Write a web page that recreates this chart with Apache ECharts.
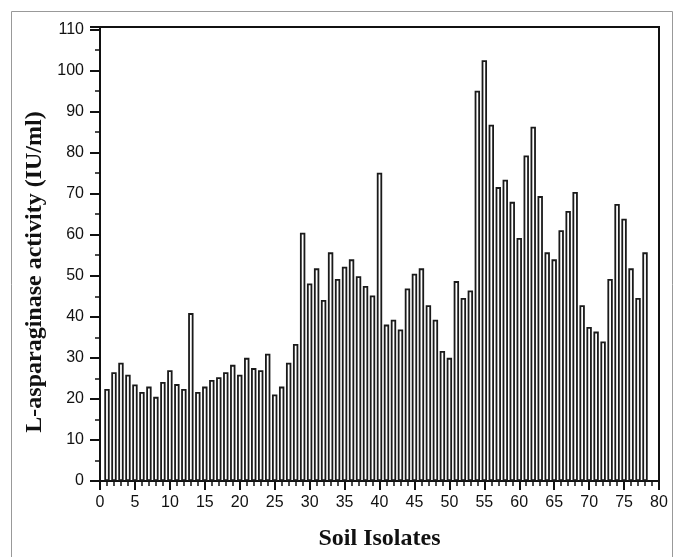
<!DOCTYPE html>
<html>
<head>
<meta charset="utf-8">
<script src="https://cdn.jsdelivr.net/npm/echarts@6/dist/echarts.min.js"></script>
<style>
  html, body { margin: 0; padding: 0; background: #fff; }
  #main { width: 676px; height: 557px; }
</style>
</head>
<body>
<div id="main"></div>
<script>
// soil isolate numbers (x positions)
const isolates = [
  1, 2, 3, 4, 5, 6, 7, 8, 9, 10, 11, 12, 13, 14, 15, 16, 17, 18, 19, 20,
  21, 22, 23, 24, 25, 26, 27, 28, 29, 30, 31, 32, 33, 34, 35, 36, 37, 38, 39, 40,
  41, 42, 43, 44, 45, 46, 47, 48, 49, 50, 51, 52, 53, 54, 55, 56, 57, 58, 59, 60,
  61, 62, 63, 64, 65, 66, 67, 68, 69, 70, 71, 72, 73, 74, 75, 76, 77, 78
];

// L-asparaginase activity (IU/ml)
const activity = [
  22.4, 26.5, 28.8, 25.9, 23.5, 21.7, 23.0, 20.5, 24.1, 27.0,
  23.6, 22.4, 40.9, 21.7, 23.0, 24.6, 25.3, 26.5, 28.3, 25.9,
  30.0, 27.5, 27.0, 31.0, 21.1, 23.0, 28.8, 33.4, 60.5, 48.1,
  51.8, 44.1, 55.7, 49.2, 52.2, 54.0, 49.9, 47.5, 45.2, 75.1,
  38.1, 39.3, 36.9, 46.9, 50.5, 51.8, 42.8, 39.3, 31.7, 30.0,
  48.7, 44.6, 46.4, 95.1, 102.5, 86.8, 71.6, 73.4, 68.0, 59.2,
  79.3, 86.3, 69.4, 55.7, 54.0, 61.1, 65.8, 70.4, 42.8, 37.5,
  36.4, 34.0, 49.2, 67.5, 63.9, 51.8, 44.6, 55.7
];

const xTitle = 'Soil Isolates';
const yTitle = 'L-asparaginase activity (IU/ml)';

const chart = echarts.init(document.getElementById('main'));

const labelFont = { fontFamily: 'Liberation Sans', fontSize: 16, color: '#111' };
const titleFont = { fontFamily: 'Liberation Serif', fontWeight: 'bold', fontSize: 24, color: '#111' };

chart.setOption({
  animation: false,
  backgroundColor: '#fff',
  // thin frame round the whole figure
  graphic: [{
    type: 'rect',
    shape: { x: 11.5, y: 11.5, width: 661, height: 560 },
    style: { fill: 'none', stroke: '#999', lineWidth: 1 },
    silent: true
  }],
  grid: {
    left: 100, right: 17, top: 27, bottom: 76,
    show: true, borderColor: '#111', borderWidth: 2
  },
  xAxis: {
    type: 'value',
    min: 0, max: 80, interval: 5,
    name: xTitle,
    nameLocation: 'middle',
    nameGap: 46,
    nameTextStyle: titleFont,
    axisLine: { lineStyle: { color: '#111', width: 2 } },
    axisTick: { length: 9, lineStyle: { color: '#111', width: 2 } },
    minorTick: { show: true, splitNumber: 5, length: 5, lineStyle: { color: '#111', width: 1.5 } },
    axisLabel: Object.assign({ margin: 14 }, labelFont),
    splitLine: { show: false }
  },
  yAxis: {
    type: 'value',
    min: 0, max: 110.6, interval: 10,
    name: yTitle,
    nameLocation: 'middle',
    nameGap: 47,
    nameTextStyle: Object.assign({ padding: [0, 36, 0, 0] }, titleFont),
    axisLine: { lineStyle: { color: '#111', width: 2 } },
    axisTick: { length: 10, lineStyle: { color: '#111', width: 2 } },
    minorTick: { show: true, splitNumber: 2, length: 5, lineStyle: { color: '#111', width: 1.5 } },
    axisLabel: Object.assign({ margin: 16 }, labelFont),
    splitLine: { show: false }
  },
  series: [{
    type: 'bar',
    barWidth: 5.4,
    data: isolates.map((x, i) => [x, activity[i]]),
    itemStyle: { color: '#fff', borderColor: '#1a1a1a', borderWidth: 1.8 }
  }]
});
</script>
</body>
</html>
